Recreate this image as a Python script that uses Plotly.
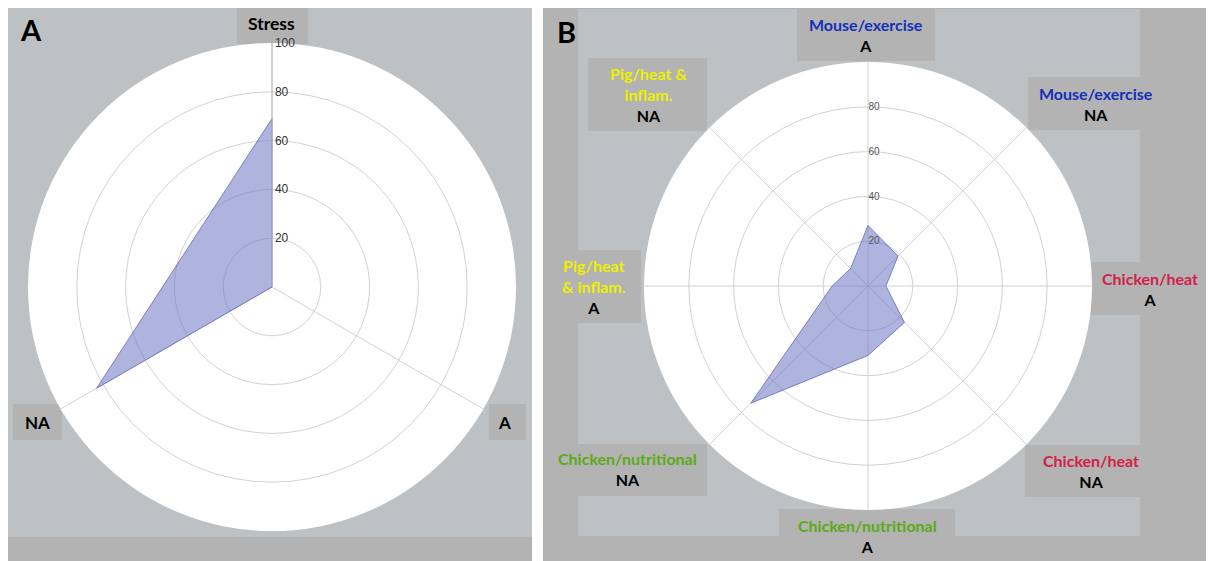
import plotly.graph_objects as go

# ---------------- data ----------------
a_categories = ["Stress", "A", "NA"]
a_values = [69, 0, 83]

b_categories = [
    "Mouse/exercise A", "Mouse/exercise NA", "Chicken/heat A", "Chicken/heat NA",
    "Chicken/nutritional A", "Chicken/nutritional NA", "Pig/heat & inflam. A",
    "Pig/heat & inflam. NA",
]
b_values = [27, 19, 8, 23, 31, 74, 16, 11]

a_ticks = [20, 40, 60, 80, 100]
b_ticks = [20, 40, 60, 80]

W, H = 1208, 561
LIGHT = "#BEC1C4"
DARK = "#B3B3B3"
FILL = "rgba(110,118,196,0.55)"
LINE = "rgba(105,112,190,0.85)"
GRID = "#D2D2D2"
FONT = "Lato"

BLUE = "#1530B8"
RED = "#D42048"
GREEN = "#5BAA16"
YELLOW = "#EEF000"


def px(x):
    return x / W


def py(y):
    return 1 - y / H


fig = go.Figure()
fig.add_trace(go.Scatterpolar(
    r=a_values + a_values[:1], theta=a_categories + a_categories[:1],
    fill="toself", fillcolor=FILL, line=dict(color=LINE, width=1),
    mode="lines", subplot="polar", showlegend=False, hoverinfo="skip"))
fig.add_trace(go.Scatterpolar(
    r=b_values + b_values[:1], theta=b_categories + b_categories[:1],
    fill="toself", fillcolor=FILL, line=dict(color=LINE, width=1),
    mode="lines", subplot="polar2", showlegend=False, hoverinfo="skip"))

# ---------------- backgrounds ----------------
shapes = []


def rect(x0, y0, x1, y1, color):
    shapes.append(dict(type="rect", xref="paper", yref="paper",
                       x0=px(x0), x1=px(x1), y0=py(y1), y1=py(y0),
                       fillcolor=color, line=dict(width=0), layer="below"))


# panel A
rect(8, 8, 532, 537, LIGHT)
rect(8, 537, 532, 561, DARK)
# panel B
rect(543, 8, 1206, 561, DARK)
rect(578, 9, 1140, 536, LIGHT)
# label boxes A
rect(237, 8, 308, 44, DARK)
rect(13, 404, 62, 440, DARK)
rect(489, 404, 526, 440, DARK)
# label boxes B
rect(797, 9, 935, 61, DARK)
rect(1028, 77, 1140, 130, DARK)
rect(1091, 262, 1206, 315, DARK)
rect(1025, 445, 1140, 497, DARK)
rect(779, 509, 955, 561, DARK)
rect(578, 444, 707, 496, DARK)
rect(578, 250, 641, 323, DARK)
rect(588, 58, 707, 131, DARK)

# ---------------- annotations ----------------
annotations = []


def label(x, y, text, size=16):
    annotations.append(dict(xref="paper", yref="paper", x=px(x), y=py(y),
                            xanchor="center", yanchor="middle", showarrow=False,
                            text=text, align="center",
                            font=dict(family=FONT, size=size, color="black")))


def col(t, c):
    return f'<span style="color:{c}">{t}</span>'


label(31, 30, "<b>A</b>", 29)
label(566, 31, "<b>B</b>", 29)
label(271, 24, "<b>Stress</b>", 17.5)
label(37, 422, "<b>NA</b>", 17)
label(504, 422, "<b>A</b>", 17)

label(866, 35, "<b>" + col("Mouse/exercise", BLUE) + "<br>A</b>")
label(1096, 104, "<b>" + col("Mouse/exercise", BLUE) + "<br>NA</b>")
label(1150, 289, "<b>" + col("Chicken/heat", RED) + "<br>A</b>")
label(1091, 471, "<b>" + col("Chicken/heat", RED) + "<br>NA</b>")
label(867, 536, "<b>" + col("Chicken/nutritional", GREEN) + "<br>A</b>")
label(627, 469, "<b>" + col("Chicken/nutritional", GREEN) + "<br>NA</b>")
label(594, 286, "<b>" + col("Pig/heat<br>& inflam.", YELLOW) + "<br>A</b>")
label(648, 94, "<b>" + col("Pig/heat &amp;<br>inflam.", YELLOW) + "<br>NA</b>")

# ---------------- polar axes ----------------
common_ang = dict(direction="clockwise", rotation=90, showticklabels=False,
                  ticks="", showline=False, gridcolor=GRID, gridwidth=1,
                  type="category")

fig.update_layout(
    width=W, height=H, autosize=False,
    margin=dict(l=0, r=0, t=0, b=0),
    paper_bgcolor="white",
    shapes=shapes, annotations=annotations,
    polar=dict(
        domain=dict(x=[px(28), px(516)], y=[py(531), py(43)]),
        bgcolor="white",
        angularaxis=dict(categoryarray=a_categories, **common_ang),
        radialaxis=dict(range=[0, 100], tickvals=a_ticks, angle=90,
                        tickangle=90,
                        side="clockwise", ticks="", showline=True,
                        linecolor="#B8B8B8", linewidth=1,
                        gridcolor=GRID, gridwidth=1,
                        tickfont=dict(family="Liberation Sans", size=12,
                                      color="#333333")),
    ),
    polar2=dict(
        domain=dict(x=[px(644), px(1092)], y=[py(510), py(62)]),
        bgcolor="white",
        angularaxis=dict(categoryarray=b_categories, **common_ang),
        radialaxis=dict(range=[0, 100], tickvals=b_ticks, angle=90,
                        tickangle=90,
                        side="clockwise", ticks="", showline=False,
                        gridcolor=GRID, gridwidth=1,
                        tickfont=dict(family="Liberation Sans", size=10,
                                      color="#555555")),
    ),
)

fig.write_html("out.html", config={"responsive": False, "displayModeBar": False},
               post_script="document.body.style.margin='0';")
